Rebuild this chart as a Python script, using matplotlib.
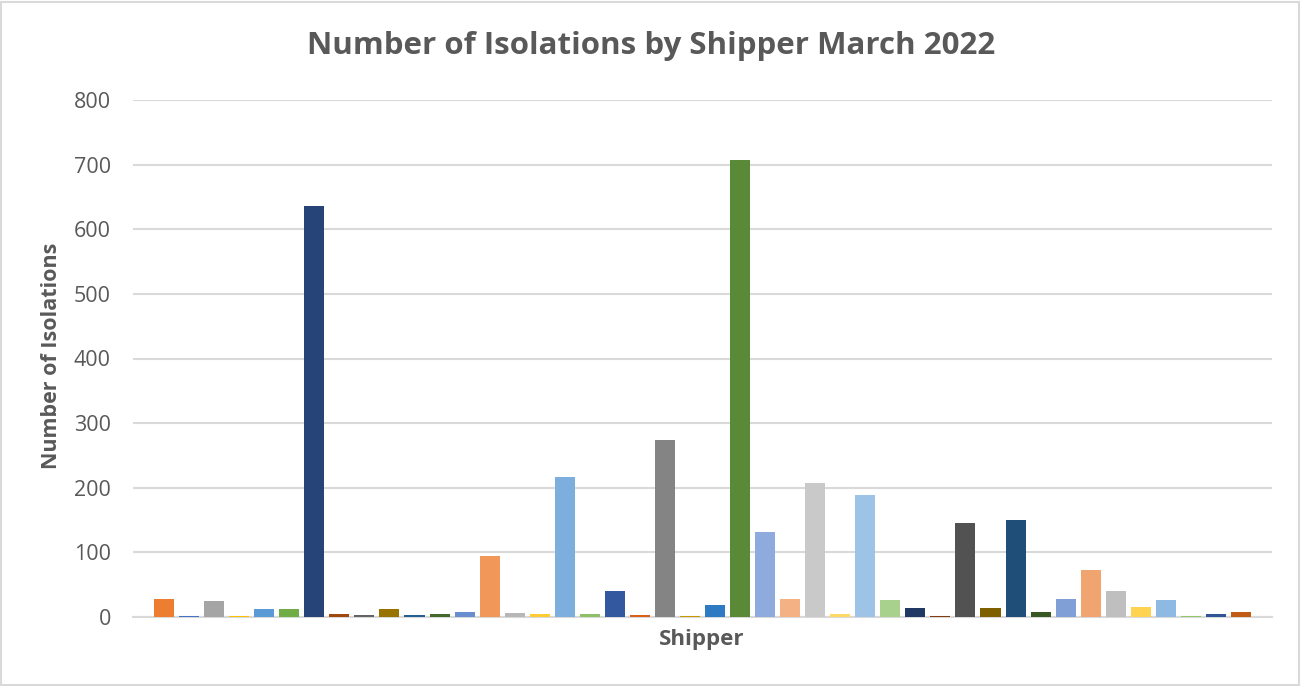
import matplotlib
matplotlib.use("Agg")
import matplotlib.pyplot as plt
from matplotlib.patches import Rectangle

plt.rcParams['font.family'] = ['Open Sans', 'DejaVu Sans']

title = "Number of Isolations by Shipper March 2022"
x_label = "Shipper"
y_label = "Number of Isolations"

values = [28, 2, 24, 2, 12, 12, 636, 5, 3, 12, 3, 5, 8, 94, 6, 5, 217, 5, 40, 3,
          274, 2, 18, 707, 131, 28, 207, 4, 189, 26, 14, 2, 145, 14, 150, 8, 28, 72,
          41, 16, 26, 2, 4, 8]

colors = ["#ED7D31", "#4472C4", "#A5A5A5", "#FFC000", "#5B9BD5", "#70AD47",
          "#264478", "#9E480E", "#636363", "#997300", "#255E91", "#43682B",
          "#698ED0", "#F1975A", "#B7B7B7", "#FFCD33", "#7CAFDD", "#8CC168",
          "#3358A0", "#D9601A", "#848484", "#C99A00", "#2E7BC4", "#5A8A38",
          "#8FAADC", "#F4B183", "#C9C9C9", "#FFD966", "#9DC3E6", "#A9D18E",
          "#203864", "#843C0C", "#525252", "#7F6000", "#1F4E79", "#385723",
          "#7F9FD6", "#F0A470", "#BFBFBF", "#FFD34F", "#8DB9E2", "#92C86A",
          "#2F5597", "#C05A14"]

yticks = [0, 100, 200, 300, 400, 500, 600, 700, 800]

W, H = 1301, 686
fig = plt.figure(figsize=(W / 100, H / 100), dpi=100)
fig.patch.set_facecolor("white")

# chart border
fig.patches.append(Rectangle((1 / W, 1 / H), 1 - 3 / W, 1 - 3 / H, transform=fig.transFigure,
                             fill=False, edgecolor="#D9D9D9", linewidth=1.5))

left, right = 133 / W, 1272 / W
bottom, top = 1 - 617 / H, 1 - 100 / H
ax = fig.add_axes([left, bottom, right - left, top - bottom])

x = list(range(len(values)))
ax.bar(x, values, width=0.8, color=colors, linewidth=0, zorder=3)

pad = 0.74
ax.set_xlim(-0.5 - pad, len(values) - 0.5 + pad)
ax.set_ylim(0, 800)
ax.set_yticks(yticks)
ax.set_yticklabels([str(t) for t in yticks])
ax.set_xticks([])

ax.grid(axis="y", color="#D9D9D9", linewidth=1.5, zorder=0)
for s in ["top", "right", "left"]:
    ax.spines[s].set_visible(False)
ax.spines["bottom"].set_color("#D9D9D9")
ax.spines["bottom"].set_linewidth(1.5)
ax.tick_params(axis="y", length=0, pad=16, labelsize=15.5, labelcolor="#595959")

fig.text(52 / W, 1 - 356 / H, y_label, rotation=90, ha="center", va="center",
         fontsize=15.5, fontweight="bold", color="#595959")
fig.text(702 / W, 1 - 640 / H, x_label, ha="center", va="center",
         fontsize=16, fontweight="bold", color="#595959")

fig.text(651 / W, 1 - 46 / H, title, ha="center", va="center", fontsize=22.5,
         fontweight="bold", color="#595959")

fig.savefig("out.png", dpi=100, facecolor="white")
